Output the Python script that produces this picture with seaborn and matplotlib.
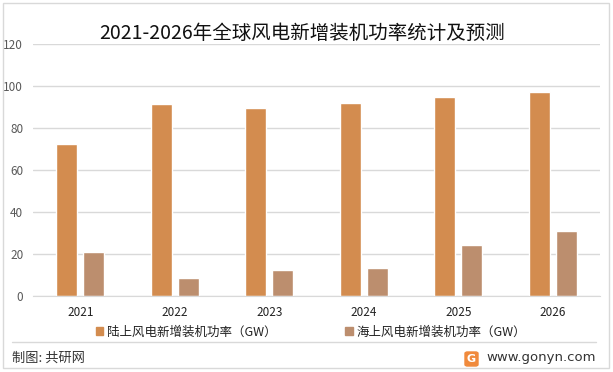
import numpy as np
import pandas as pd
import matplotlib
matplotlib.use("Agg")
import matplotlib.pyplot as plt
import seaborn as sns
from matplotlib.patches import Rectangle, FancyBboxPatch
from matplotlib.lines import Line2D

# values
years = ['2021', '2022', '2023', '2024', '2025', '2026']
onshore = [72.4, 91.4, 89.6, 92.0, 94.8, 97.1]
offshore = [21.0, 8.7, 12.4, 13.3, 24.3, 31.0]
series_names = ['陆上风电新增装机功率（GW）', '海上风电新增装机功率（GW）']
yticks = [0, 20, 40, 60, 80, 100, 120]

df = pd.DataFrame({
    'year': years * 2,
    'value': onshore + offshore,
    'series': [series_names[0]] * len(years) + [series_names[1]] * len(years),
})

sns.set_style('white')
plt.rcParams['font.family'] = ['Noto Sans CJK SC', 'DejaVu Sans']

fig = plt.figure(figsize=(6.13, 3.72), dpi=100)
ax = fig.add_axes([33 / 613, 1 - 296 / 372, 567 / 613, 252 / 372])

palette = {series_names[0]: '#D38C4F', series_names[1]: '#BC8E6E'}
sns.barplot(data=df, x='year', y='value', hue='series', palette=palette,
            width=0.57, gap=0.22, saturation=1, ax=ax, legend=False)

ax.set_ylim(0, 120)
ax.set_yticks(yticks)
ax.set_xlim(-0.5, len(years) - 0.5)
ax.grid(axis='y', color='#D9D9D9', linewidth=1)
ax.set_axisbelow(True)
for s in ['top', 'right', 'left']:
    ax.spines[s].set_visible(False)
ax.spines['bottom'].set_color('#D9D9D9')
ax.set_xlabel('')
ax.set_ylabel('')
ax.tick_params(axis='y', labelsize=8.5, colors='#595959', length=0, pad=7)
ax.tick_params(axis='x', labelsize=8.5, colors='#222222', length=0, pad=7)

fig.text(0.493, 1 - 33 / 372, '2021-2026年全球风电新增装机功率统计及预测',
         ha='center', va='center', fontsize=14, color='#111111')

handles = [Rectangle((0, 0), 1, 1, color=palette[n]) for n in series_names]
fig.legend(handles, series_names, loc='center', bbox_to_anchor=(311 / 613, 1 - 332 / 372),
           ncol=2, frameon=False, fontsize=9, handlelength=0.6, handleheight=0.6,
           handletextpad=0.3, columnspacing=5.5, labelcolor='#222222')

# separator and footer
fig.add_artist(Line2D([12 / 613, 596 / 613], [1 - 342 / 372] * 2, color='#D9D9D9', lw=1))
fig.text(12 / 613, 1 - 358 / 372, '制图: 共研网', ha='left', va='center', fontsize=9.5, color='#333333')
fig.text(596 / 613, 1 - 358 / 372, 'www.gonyn.com', ha='right', va='center', fontsize=9.5,
         color='#333333', family=['DejaVu Sans'])
fig.add_artist(FancyBboxPatch((465 / 613, 1 - 366 / 372), 13 / 613, 14 / 372,
                              boxstyle='round,pad=0,rounding_size=0.004',
                              color='#F08A3C', transform=fig.transFigure))
fig.text(471.5 / 613, 1 - 359 / 372, 'G', ha='center', va='center', fontsize=8,
         color='white', weight='bold', family=['DejaVu Sans'])

# outer border
fig.add_artist(Rectangle((3 / 613, 4 / 372), 606 / 613, 365 / 372, fill=False,
                         edgecolor='#D9D9D9', lw=1, transform=fig.transFigure))

fig.savefig('out.png', dpi=100)
